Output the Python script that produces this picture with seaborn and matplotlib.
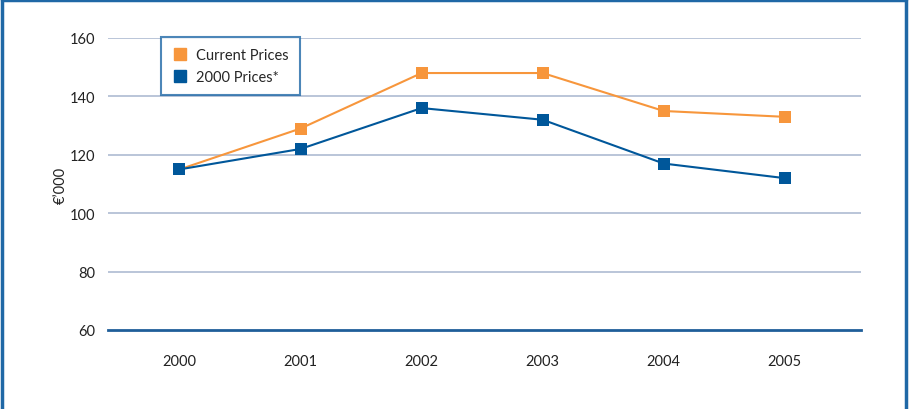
import matplotlib
matplotlib.use("Agg")
import matplotlib.pyplot as plt
import seaborn as sns
import pandas as pd
from matplotlib.lines import Line2D

# --- dati ---
years = ["2000", "2001", "2002", "2003", "2004", "2005"]
current_prices = [115, 129, 148, 148, 135, 133]
prices_2000 = [115, 122, 136, 132, 117, 112]
series_names = ["Current Prices", "2000 Prices*"]
y_ticks = [60, 80, 100, 120, 140, 160]

orange = "#F7963C"
blue = "#00579A"
grid_col = "#AEBBD2"
frame_col = "#1F68A6"

sns.set_theme(style="white")
plt.rcParams["font.family"] = ["Lato", "DejaVu Sans"]

df = pd.DataFrame({
    "year": years * 2,
    "value": current_prices + prices_2000,
    "series": [series_names[0]] * len(years) + [series_names[1]] * len(years),
})

fig = plt.figure(figsize=(9.11, 4.10), dpi=100)
ax = fig.add_axes([0.1186, 0.1927, 0.8266, 0.7122])

for name, col in zip(series_names, [orange, blue]):
    sns.lineplot(data=df[df["series"] == name], x="year", y="value",
                 color=col, marker="s", markersize=9, markeredgewidth=0,
                 linewidth=1.5, ax=ax, legend=False)

ax.set_ylim(60, 160)
ax.set_xlim(-0.59, 5.63)
ax.set_yticks(y_ticks)
ax.tick_params(axis="both", labelsize=10.5, length=0, colors="#222222", pad=9)
ax.tick_params(axis="x", pad=17)
for y in y_ticks[1:]:
    ax.axhline(y, color=grid_col, linewidth=1.2, zorder=0)
for s in ["top", "right", "left"]:
    ax.spines[s].set_visible(False)
ax.spines["bottom"].set_color("#1F5E99")
ax.spines["bottom"].set_linewidth(2)
ax.set_xlabel("")
ax.set_ylabel("€’000", fontsize=10.5, color="#222222")
ax.yaxis.set_label_coords(-0.054, 0.5)

handles = [Line2D([], [], color=c, marker="s", linestyle="none", markersize=9)
           for c in [orange, blue]]
leg = ax.legend(handles, series_names, loc="upper left",
                bbox_to_anchor=(0.070, 1.004), borderaxespad=0,
                fontsize=10.5, frameon=True, fancybox=False,
                handletextpad=0.6, borderpad=0.8, labelspacing=0.5,
                handlelength=1.0)
leg.get_frame().set_edgecolor(frame_col)
leg.get_frame().set_linewidth(1.5)

# cornice esterna
fig.add_artist(Line2D([0.002, 0.002], [0, 0.998], color=frame_col, linewidth=2.5, transform=fig.transFigure))
fig.add_artist(Line2D([0.002, 0.994], [0.998, 0.998], color=frame_col, linewidth=2.5, transform=fig.transFigure))
fig.add_artist(Line2D([0.994, 0.994], [0, 0.998], color=frame_col, linewidth=2.5, transform=fig.transFigure))

fig.savefig("out.png", dpi=100)
